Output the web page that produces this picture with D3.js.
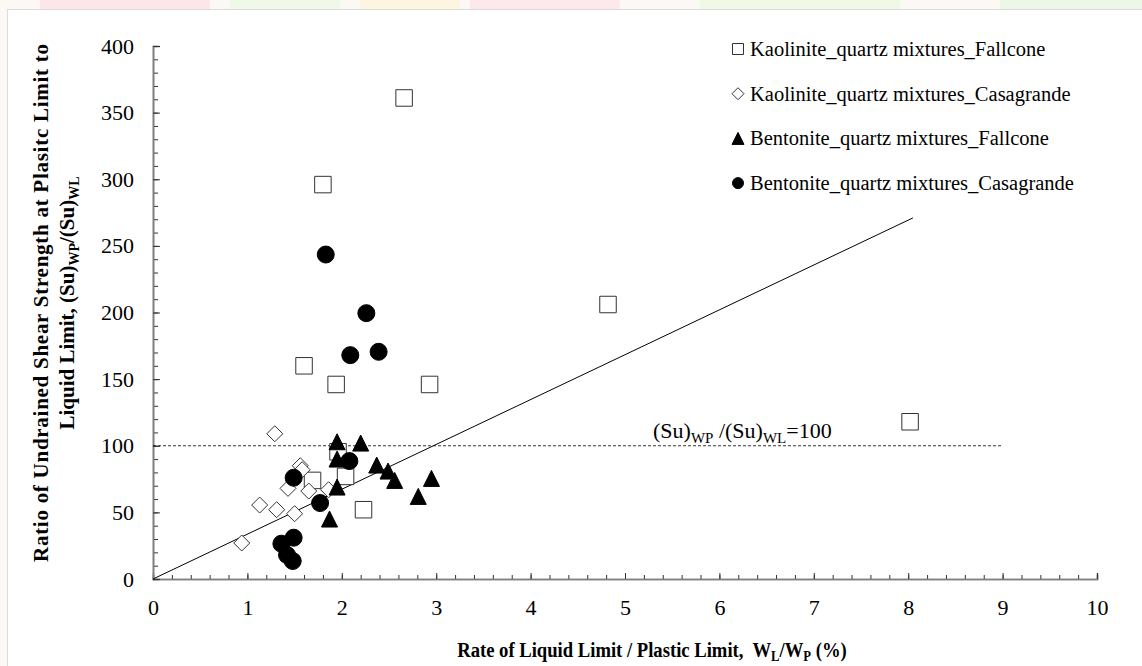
<!DOCTYPE html>
<html><head><meta charset="utf-8">
<script src="https://cdn.jsdelivr.net/npm/d3@7"></script>
<style>
html,body{margin:0;padding:0;background:#fff;}
svg{display:block;}
svg text{font-family:"Liberation Serif","Times New Roman",serif;white-space:pre;}
</style></head>
<body>
<svg id="chart" width="1142" height="666"></svg>
<script>
// ---------- data ----------
const seriesNames = [
  "Kaolinite_quartz mixtures_Fallcone",
  "Kaolinite_quartz mixtures_Casagrande",
  "Bentonite_quartz mixtures_Fallcone",
  "Bentonite_quartz mixtures_Casagrande"
];
const kaoFallX = [2.66, 1.80, 4.82, 1.60, 1.94, 2.93, 8.02, 1.96, 2.04, 1.69, 2.23];
const kaoFallY = [361, 296, 206, 160, 146, 146, 118, 95.5, 77, 74, 52];
const kaoCasaX = [1.29, 1.56, 1.58, 1.43, 1.65, 1.86, 1.13, 1.31, 1.50, 0.94];
const kaoCasaY = [109, 85, 82, 68, 66, 67, 55.5, 52, 49, 27];
const benFallX = [1.95, 2.20, 1.95, 2.37, 2.49, 2.56, 1.95, 2.95, 2.81, 1.87];
const benFallY = [103, 102, 90, 85.5, 81, 74, 69, 75.5, 62, 45];
const benCasaX = [1.83, 2.26, 2.09, 2.39, 2.08, 1.49, 1.77, 1.49, 1.36, 1.42, 1.48];
const benCasaY = [243.5, 199.5, 168, 170.5, 88.5, 76, 57, 31, 26.5, 18, 13.5];
const trendX = [0, 8.05];
const trendY = [0, 271];
const limitX = [0, 9];
const limitY = [100, 100];
const xTicks = [0,1,2,3,4,5,6,7,8,9,10];
const yTicks = [0,50,100,150,200,250,300,350,400];

// ---------- layout ----------
const svg = d3.select("#chart");
const W = 1142, H = 666;
const x = d3.scaleLinear().domain([0,10]).range([153,1097]);
const y = d3.scaleLinear().domain([0,400]).range([579,46]);
const SERIF = '"Liberation Serif","Times New Roman",serif';

// faint page background (watermark strip)
const bg = svg.append("g");
bg.append("rect").attr("x",0).attr("y",0).attr("width",W).attr("height",H).attr("fill","#fcf9f5");
[[40,210,"#fde6e9"],[230,340,"#f0f8e8"],[360,460,"#fdf5e0"],[470,620,"#fde9eb"],[700,900,"#f0f9e6"],[1000,1142,"#edf7e8"]]
  .forEach(d=>bg.append("rect").attr("x",d[0]).attr("y",0).attr("width",d[1]-d[0]).attr("height",9).attr("fill",d[2]));
bg.append("rect").attr("x",7.5).attr("y",9.5).attr("width",W).attr("height",H).attr("fill","#fff").attr("stroke","#dcdcdc");

// ---------- axes ----------
const axisColor = "#808080";
const minorX = d3.range(0, 10.001, 0.2).map(v=>+v.toFixed(1));
const minorY = d3.range(0, 400.1, 10);

const gxMinor = svg.append("g").attr("transform",`translate(0,${y(0)})`)
  .call(d3.axisBottom(x).tickValues(minorX).tickSize(-4).tickFormat(""));
const gx = svg.append("g").attr("transform",`translate(0,${y(0)})`)
  .call(d3.axisBottom(x).tickValues(xTicks).tickSize(-6).tickPadding(20).tickFormat(d3.format("d")));
const gyMinor = svg.append("g").attr("transform",`translate(${x(0)},0)`)
  .call(d3.axisLeft(y).tickValues(minorY).tickSize(-5).tickFormat(""));
const gy = svg.append("g").attr("transform",`translate(${x(0)},0)`)
  .call(d3.axisLeft(y).tickValues(yTicks).tickSize(-7).tickPadding(19).tickFormat(d3.format("d")));

[gxMinor,gx,gyMinor,gy].forEach(g=>{
  g.attr("font-family",null).attr("font-size",null);
  g.select(".domain").attr("stroke",axisColor).attr("stroke-width",1.6);
  g.selectAll(".tick line").attr("stroke","#333").attr("stroke-width",1);
  g.selectAll("text").style("font-family",SERIF).style("font-size","22px").attr("fill","#000");
});

// ---------- reference lines ----------
const line = d3.line().x(d=>x(d[0])).y(d=>y(d[1]));
svg.append("path").datum(limitX.map((v,i)=>[v,limitY[i]]))
  .attr("d",line).attr("stroke","#000").attr("stroke-width",0.8).attr("stroke-dasharray","3,2").attr("fill","none");
svg.append("path").datum(trendX.map((v,i)=>[v,trendY[i]]))
  .attr("d",line).attr("stroke","#000").attr("stroke-width",1).attr("fill","none");

// ---------- markers ----------
function markerPath(type, s){
  const h = s/2;
  if(type==="square") return `M${-h},${-h}H${h}V${h}H${-h}Z`;
  if(type==="diamond") return `M0,${-h}L${h},0L0,${h}L${-h},0Z`;
  if(type==="triangle") return `M0,${-h}L${h},${h}L${-h},${h}Z`;
  return d3.symbol(d3.symbolCircle, Math.PI*h*h)();
}
const series = [
  {name:seriesNames[0], xs:kaoFallX, ys:kaoFallY, type:"square",  size:16.5, fill:"#fff", stroke:"#333", lsize:11},
  {name:seriesNames[1], xs:kaoCasaX, ys:kaoCasaY, type:"diamond", size:16,   fill:"#fff", stroke:"#333", lsize:12},
  {name:seriesNames[2], xs:benFallX, ys:benFallY, type:"triangle",size:16,   fill:"#000", stroke:"#000", lsize:12},
  {name:seriesNames[3], xs:benCasaX, ys:benCasaY, type:"circle",  size:17,   fill:"#000", stroke:"#000", lsize:11}
];
series.forEach(s=>{
  svg.append("g").selectAll("path").data(s.xs.map((v,i)=>[v,s.ys[i]])).join("path")
    .attr("transform",d=>`translate(${x(d[0])},${y(d[1])})`)
    .attr("d",markerPath(s.type,s.size))
    .attr("fill",s.fill).attr("stroke",s.stroke).attr("stroke-width",1);
});

// ---------- legend ----------
const lg = svg.append("g");
series.forEach((s,i)=>{
  const cy = 49 + i*44.7;
  lg.append("path").attr("transform",`translate(738,${cy})`).attr("d",markerPath(s.type,s.lsize))
    .attr("fill",s.fill).attr("stroke",s.stroke).attr("stroke-width",1);
  lg.append("text").attr("x",750).attr("y",cy).attr("dy","0.34em")
    .style("font-size","20.5px").attr("fill","#000").text(s.name);
});

// ---------- annotation ----------
const ann = svg.append("text").attr("x",653).attr("y",438).style("font-size","22px").attr("fill","#000");
ann.append("tspan").text("(Su)");
ann.append("tspan").style("font-size","15px").attr("dy",5).text("WP");
ann.append("tspan").attr("dy",-5).text(" /(Su)");
ann.append("tspan").style("font-size","15px").attr("dy",5).text("WL");
ann.append("tspan").attr("dy",-5).text("=100");

// ---------- axis titles ----------
const xt = svg.append("text").attr("transform","translate(652,657) scale(0.91,1)").attr("text-anchor","middle")
  .style("font-size","20.5px").attr("font-weight","bold").attr("fill","#000");
xt.append("tspan").text("Rate of Liquid Limit / Plastic Limit,  W");
xt.append("tspan").style("font-size","14px").attr("dy",4).text("L");
xt.append("tspan").attr("dy",-4).text("/W");
xt.append("tspan").style("font-size","14px").attr("dy",4).text("P");
xt.append("tspan").attr("dy",-4).text(" (%)");

const yt = svg.append("g").attr("transform","translate(0,303) rotate(-90)");
yt.append("text").attr("x",0).attr("y",48).attr("text-anchor","middle")
  .attr("textLength",518).attr("lengthAdjust","spacing")
  .style("font-size","21px").attr("font-weight","bold").attr("fill","#000")
  .text("Ratio of Undrained Shear Strength at Plasitc Limit to");
const yt2 = yt.append("text").attr("x",0).attr("y",74).attr("text-anchor","middle")
  .style("font-size","21px").attr("font-weight","bold").attr("fill","#000");
yt2.append("tspan").text("Liquid Limit, (Su)");
yt2.append("tspan").style("font-size","14px").attr("dy",5).text("WP");
yt2.append("tspan").attr("dy",-5).text("/(Su)");
yt2.append("tspan").style("font-size","14px").attr("dy",5).text("WL");
</script>
</body></html>
